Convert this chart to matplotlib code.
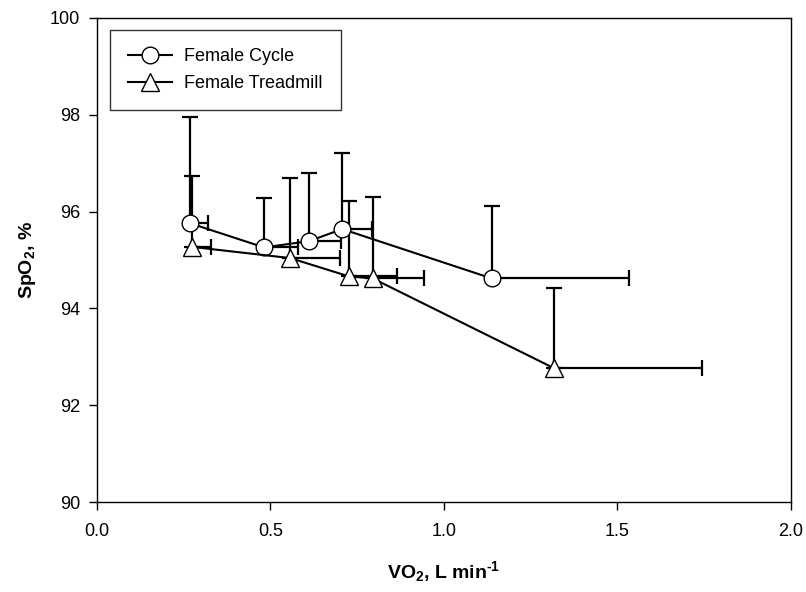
import matplotlib
matplotlib.use('Agg')
import matplotlib.pyplot as plt

# mean VO2 (L/min) and SpO2 (%) with positive SD bars
cycle_vo2 = [0.268, 0.482, 0.612, 0.707, 1.138]
cycle_spo2 = [95.76, 95.26, 95.39, 95.64, 94.62]
cycle_spo2_sd = [2.19, 1.02, 1.40, 1.58, 1.50]
cycle_vo2_sd = [0.053, 0.097, 0.093, 0.085, 0.397]

tread_vo2 = [0.275, 0.557, 0.727, 0.795, 1.319]
tread_spo2 = [95.27, 95.04, 94.66, 94.62, 92.76]
tread_spo2_sd = [1.47, 1.65, 1.56, 1.69, 1.66]
tread_vo2_sd = [0.054, 0.143, 0.137, 0.149, 0.425]

x_ticks = [0.0, 0.5, 1.0, 1.5, 2.0]
y_ticks = [90, 92, 94, 96, 98, 100]

plt.rcParams['font.family'] = ['Liberation Sans', 'DejaVu Sans']
plt.rcParams['mathtext.fontset'] = 'custom'
plt.rcParams['mathtext.rm'] = 'Liberation Sans:bold'
plt.rcParams['mathtext.default'] = 'rm'

fig = plt.figure(figsize=(8.06, 5.92), dpi=100)
ax = fig.add_axes([0.1203, 0.152, 0.8607, 0.8176])

zeros = [0] * 5
ax.errorbar(cycle_vo2, cycle_spo2, yerr=[zeros, cycle_spo2_sd], xerr=[zeros, cycle_vo2_sd],
            fmt='none', ecolor='black', elinewidth=1.6, capsize=5.8, capthick=1.6, zorder=2)
ax.errorbar(tread_vo2, tread_spo2, yerr=[zeros, tread_spo2_sd], xerr=[zeros, tread_vo2_sd],
            fmt='none', ecolor='black', elinewidth=1.6, capsize=5.8, capthick=1.6, zorder=2)

l1, = ax.plot(cycle_vo2, cycle_spo2, '-o', color='black', lw=1.5, ms=12,
              mfc='white', mec='black', mew=1.0, zorder=3, label='Female Cycle')
l2, = ax.plot(tread_vo2, tread_spo2, '-^', color='black', lw=1.5, ms=12.5,
              mfc='white', mec='black', mew=1.0, zorder=3, label='Female Treadmill')

ax.set_xlim(0, 2.0)
ax.set_ylim(90, 100)
ax.set_xticks(x_ticks)
ax.set_xticklabels(['{:.1f}'.format(v) for v in x_ticks])
ax.set_yticks(y_ticks)
ax.tick_params(direction='out', length=6, width=1, labelsize=13, top=False, right=False)
ax.tick_params(axis='x', pad=9)
ax.tick_params(axis='y', pad=6)
for s in ax.spines.values():
    s.set_linewidth(1.0)

ax.set_xlabel(r'VO$_2$, L min$^{\text{-1}}$', fontsize=14, fontweight='bold', labelpad=14)
ax.set_ylabel(r'SpO$_2$, %', fontsize=14, fontweight='bold', labelpad=9)

leg = ax.legend(handles=[l1, l2], loc='upper left', bbox_to_anchor=(0.019, 0.975),
                borderaxespad=0, fontsize=13, frameon=True, fancybox=False,
                edgecolor='black', handlelength=2.4, handletextpad=0.7,
                borderpad=1.0, labelspacing=0.55)
leg.get_frame().set_linewidth(1.0)

plt.savefig('out.png', dpi=100)
